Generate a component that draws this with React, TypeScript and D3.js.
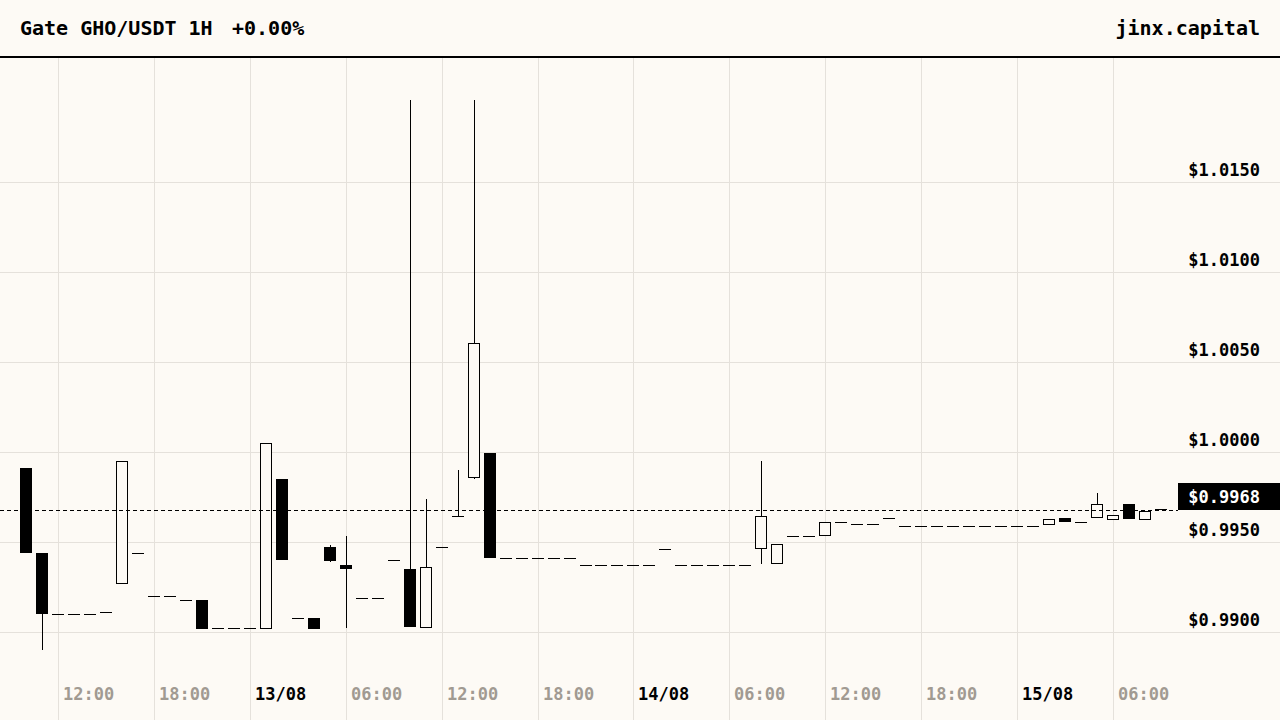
import { useMemo } from "react";
import * as d3 from "d3";

// hourly candles, 12/08 10:00 -> 15/08 09:00 (UTC)
const startTime = new Date(Date.UTC(2024, 7, 12, 10));
const endTime = new Date(Date.UTC(2024, 7, 15, 9));

const opens = [
  0.99912, 0.99442, 0.991, 0.991, 0.991, 0.99111, 0.99272, 0.99438, 0.99201, 0.99201, 0.99178, 0.99179, 0.99022, 0.99022,
  0.99022, 0.99022, 0.99851, 0.99078, 0.99078, 0.99472, 0.99373, 0.99189, 0.99189, 0.99401, 0.99351, 0.99028,
  0.99472, 0.99648, 0.9986, 0.99993, 0.99411, 0.99411, 0.99411, 0.99411, 0.99411, 0.99372, 0.99372, 0.99372,
  0.99372, 0.99372, 0.99461, 0.99372, 0.99372, 0.99372, 0.99372, 0.99372, 0.99466, 0.99383, 0.99533, 0.99533,
  0.99538, 0.9961, 0.99599, 0.99599, 0.99632, 0.99588, 0.99588, 0.99588, 0.99588, 0.99588, 0.99588, 0.99588,
  0.99588, 0.99588, 0.99599, 0.99632, 0.9961, 0.99638, 0.99627, 0.9971, 0.99627, 0.99682,
];
const highs = [
  0.99912, 0.99442, 0.991, 0.991, 0.991, 0.99111, 0.99949, 0.99438, 0.99201, 0.99201, 0.99178, 0.99179, 0.99022, 0.99022,
  0.99022, 1.00049, 0.99851, 0.99078, 0.99078, 0.99484, 0.99534, 0.99189, 0.99189, 0.99401, 1.01953, 0.9974,
  0.99472, 0.999, 1.01953, 0.99993, 0.99411, 0.99411, 0.99411, 0.99411, 0.99411, 0.99372, 0.99372, 0.99372,
  0.99372, 0.99372, 0.99461, 0.99372, 0.99372, 0.99372, 0.99372, 0.99372, 0.99949, 0.99488, 0.99533, 0.99533,
  0.9961, 0.9961, 0.99599, 0.99599, 0.99632, 0.99588, 0.99588, 0.99588, 0.99588, 0.99588, 0.99588, 0.99588,
  0.99588, 0.99588, 0.9963, 0.99632, 0.9961, 0.99771, 0.99649, 0.9971, 0.99671, 0.99682,
];
const lows = [
  0.99442, 0.98902, 0.991, 0.991, 0.991, 0.99111, 0.99272, 0.99438, 0.99201, 0.99201, 0.99178, 0.9902, 0.99022, 0.99022,
  0.99022, 0.99022, 0.99403, 0.99078, 0.9902, 0.9939, 0.99026, 0.99189, 0.99189, 0.99401, 0.99031, 0.99028,
  0.99472, 0.9964, 0.99851, 0.99414, 0.99411, 0.99411, 0.99411, 0.99411, 0.99411, 0.99372, 0.99372, 0.99372,
  0.99372, 0.99372, 0.99461, 0.99372, 0.99372, 0.99372, 0.99372, 0.99372, 0.99377, 0.99383, 0.99533, 0.99533,
  0.99538, 0.9961, 0.99599, 0.99599, 0.99626, 0.99588, 0.99588, 0.99588, 0.99588, 0.99588, 0.99588, 0.99588,
  0.99588, 0.99588, 0.99593, 0.99614, 0.9961, 0.99638, 0.99627, 0.99627, 0.99627, 0.99682,
];
const closes = [
  0.99442, 0.99103, 0.991, 0.991, 0.991, 0.99111, 0.99949, 0.99438, 0.99201, 0.99201, 0.99178, 0.9902, 0.99022, 0.99022,
  0.99022, 1.00049, 0.99403, 0.99078, 0.9902, 0.99397, 0.9935, 0.99189, 0.99189, 0.99401, 0.99031, 0.99362,
  0.99472, 0.9964, 1.00603, 0.99414, 0.99411, 0.99411, 0.99411, 0.99411, 0.99411, 0.99372, 0.99372, 0.99372,
  0.99372, 0.99372, 0.99461, 0.99372, 0.99372, 0.99372, 0.99372, 0.99372, 0.99647, 0.99488, 0.99533, 0.99533,
  0.9961, 0.9961, 0.99599, 0.99599, 0.99626, 0.99588, 0.99588, 0.99588, 0.99588, 0.99588, 0.99588, 0.99588,
  0.99588, 0.99588, 0.9963, 0.99614, 0.9961, 0.9971, 0.99649, 0.99627, 0.99671, 0.99682,
];

const lastPrice = 0.9968;
const priceDomain = [0.99, 1.015];
const title = "Gate GHO/USDT 1H";
const change = "+0.00%";
const brand = "jinx.capital";

const W = 1280;
const H = 720;
const BG = "#fdfaf5";
const GRID = "#e5e1db";
const FONT = "'DejaVu Sans Mono', monospace";

export default function App() {
  const times = useMemo(() => d3.utcHour.range(startTime, d3.utcHour.offset(endTime, 1)), []);

  const x = d3.scaleUtc().domain([startTime, endTime]).range([26, 1161]);
  const y = d3.scaleLinear().domain(priceDomain).range([632.3, 181.7]);

  const xTicks = d3.utcHour.every(6)!.range(startTime, endTime);
  const yTicks = y.ticks(5);
  const fmtDay = d3.utcFormat("%d/%m");
  const fmtHour = d3.utcFormat("%H:%M");

  const yLast = Math.round(y(lastPrice)) + 0.5;

  return (
    <svg width={W} height={H} style={{ display: "block", background: BG, fontFamily: FONT }}>
      <style>{`body{margin:0}`}</style>
      <rect width={W} height={H} fill={BG} />

      {/* grid */}
      {xTicks.map((t, i) => {
        const gx = Math.round(x(t)) + 0.5;
        return <line key={"vx" + i} x1={gx} x2={gx} y1={58} y2={H} stroke={GRID} strokeWidth={1} />;
      })}
      {yTicks.map((v, i) => {
        const gy = Math.round(y(v)) + 0.5;
        return <line key={"hy" + i} x1={0} x2={W} y1={gy} y2={gy} stroke={GRID} strokeWidth={1} />;
      })}

      {/* candles */}
      {times.map((t, i) => {
        const cx = Math.round(x(t));
        const o = opens[i], c = closes[i], h = highs[i], l = lows[i];
        const yo = y(o), yc = y(c), yh = y(h), yl = y(l);
        const top = Math.min(yo, yc), bot = Math.max(yo, yc);
        const wick =
          yl - yh > 0.5 ? (
            <line x1={cx + 0.5} x2={cx + 0.5} y1={Math.round(yh)} y2={Math.round(yl)} stroke="#000" strokeWidth={1} />
          ) : null;
        let body;
        if (bot - top < 1) {
          const ly = Math.round(yo) + 0.5;
          body = <line x1={cx - 6} x2={cx + 6} y1={ly} y2={ly} stroke="#000" strokeWidth={1} />;
        } else if (c < o) {
          body = <rect x={cx - 6} y={Math.round(top)} width={12} height={Math.max(1, Math.round(bot) - Math.round(top))} fill="#000" />;
        } else {
          body = (
            <rect
              x={cx - 5.5}
              y={Math.round(top) + 0.5}
              width={11}
              height={Math.max(1, Math.round(bot) - Math.round(top))}
              fill={BG}
              stroke="#000"
              strokeWidth={1}
            />
          );
        }
        return (
          <g key={"c" + i}>
            {wick}
            {body}
          </g>
        );
      })}

      {/* last price line */}
      <line x1={0} x2={1178} y1={yLast} y2={yLast} stroke="#000" strokeWidth={1} strokeDasharray="4,3" />

      {/* y labels */}
      {yTicks.map((v, i) => (
        <text key={"yl" + i} x={1260} y={Math.round(y(v)) - 6} textAnchor="end" fontSize={17} fontWeight="bold" fill="#000">
          {"$" + v.toFixed(4)}
        </text>
      ))}
      <rect x={1178} y={yLast - 27.5} width={W - 1178} height={27} fill="#000" />
      <text x={1260} y={yLast - 8} textAnchor="end" fontSize={17} fontWeight="bold" fill="#fff">
        {"$" + lastPrice.toFixed(4)}
      </text>

      {/* x labels */}
      {xTicks.map((t, i) => {
        const isDay = t.getUTCHours() === 0;
        return (
          <text
            key={"xl" + i}
            x={Math.round(x(t)) + 5}
            y={700}
            fontSize={17}
            fontWeight="bold"
            fill={isDay ? "#000" : "#a19a92"}
          >
            {isDay ? fmtDay(t) : fmtHour(t)}
          </text>
        );
      })}

      {/* header */}
      <rect x={0} y={0} width={W} height={56} fill={BG} />
      <text x={20} y={35} fontSize={20} fontWeight="bold" fill="#000">
        {title}
      </text>
      <text x={232} y={35} fontSize={20} fontWeight="bold" fill="#000">
        {change}
      </text>
      <text x={1260} y={35} fontSize={20} fontWeight="bold" fill="#000" textAnchor="end">
        {brand}
      </text>
      <line x1={0} x2={W} y1={57} y2={57} stroke="#000" strokeWidth={2} />
    </svg>
  );
}
